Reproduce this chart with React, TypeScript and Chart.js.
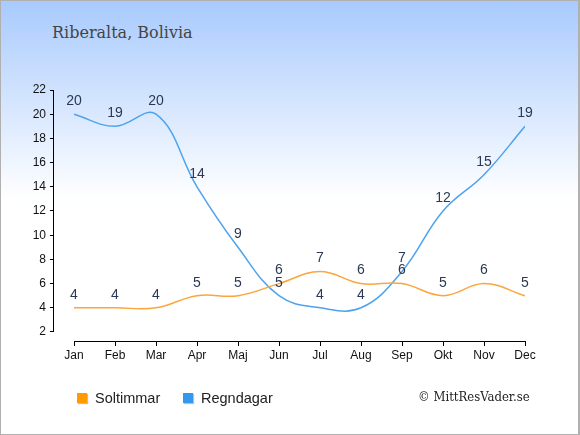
import { useEffect, useRef } from 'react'
import { Chart, registerables } from 'chart.js'

Chart.register(...registerables)

const months = ['Jan', 'Feb', 'Mar', 'Apr', 'Maj', 'Jun', 'Jul', 'Aug', 'Sep', 'Okt', 'Nov', 'Dec']
const soltimmar = [4, 4, 4, 5, 5, 6, 7, 6, 6, 5, 6, 5]
const regndagar = [20, 19, 20, 14, 9, 5, 4, 4, 7, 12, 15, 19]
const yTicks = [2, 4, 6, 8, 10, 12, 14, 16, 18, 20, 22]

const sunColor = '#fba63c'
const rainColor = '#4da3ee'

// numbers above every point
const valueLabels = {
  id: 'valueLabels',
  afterDatasetsDraw(chart: any) {
    const ctx = chart.ctx
    ctx.save()
    ctx.font = '14px "Liberation Sans", Arial, sans-serif'
    ctx.fillStyle = '#2b3954'
    ctx.textAlign = 'center'
    ctx.textBaseline = 'middle'
    chart.data.datasets.forEach((ds: any, i: number) => {
      const meta = chart.getDatasetMeta(i)
      meta.data.forEach((pt: any, j: number) => {
        ctx.fillText(String(ds.data[j].y), pt.x, pt.y - 13)
      })
    })
    ctx.restore()
  }
}

// axis lines only over the tick range, leaving a gap in the corner
const axisLines = {
  id: 'axisLines',
  beforeDatasetsDraw(chart: any) {
    const { ctx, chartArea } = chart
    const x = chart.scales.x
    const y = chart.scales.y
    ctx.save()
    ctx.strokeStyle = '#000'
    ctx.lineWidth = 1
    ctx.beginPath()
    const ax = Math.round(chartArea.left) - 0.5
    ctx.moveTo(ax, y.getPixelForValue(yTicks[yTicks.length - 1]))
    ctx.lineTo(ax, y.getPixelForValue(yTicks[0]))
    const ay = Math.round(chartArea.bottom) + 0.5
    ctx.moveTo(x.getPixelForValue(0), ay)
    ctx.lineTo(x.getPixelForValue(months.length - 1), ay)
    ctx.stroke()
    ctx.restore()
  }
}

function WeatherChart() {
  const canvasRef = useRef<HTMLCanvasElement>(null)

  useEffect(() => {
    if (!canvasRef.current) return
    const ctx = canvasRef.current.getContext('2d')
    if (!ctx) return

    const tickFont = { family: '"Liberation Sans", Arial, sans-serif', size: 12 }

    const chart = new Chart(ctx, {
      type: 'line',
      data: {
        datasets: [
          {
            label: 'Soltimmar',
            data: soltimmar.map((v, i) => ({ x: i, y: v })),
            borderColor: sunColor,
            borderWidth: 1.5,
            pointRadius: 0,
            tension: 0.4,
            fill: false
          },
          {
            label: 'Regndagar',
            data: regndagar.map((v, i) => ({ x: i, y: v })),
            borderColor: rainColor,
            borderWidth: 1.5,
            pointRadius: 0,
            tension: 0.4,
            fill: false
          }
        ]
      },
      options: {
        responsive: false,
        animation: false,
        layout: { padding: { top: 90, left: 0, right: 55, bottom: 64 } },
        scales: {
          x: {
            type: 'linear',
            min: -0.488,
            max: months.length - 1,
            afterBuildTicks: (scale: any) => {
              scale.ticks = months.map((_, i) => ({ value: i }))
            },
            afterFit: (scale: any) => {
              scale.height = 30
            },
            border: { display: false },
            grid: { drawOnChartArea: false, drawTicks: true, tickLength: 5, color: '#000' },
            ticks: {
              autoSkip: false,
              maxRotation: 0,
              padding: 2,
              color: '#111',
              font: tickFont,
              callback: (v: any) => months[v]
            }
          },
          y: {
            min: 1.256,
            max: 22,
            afterBuildTicks: (scale: any) => {
              scale.ticks = yTicks.map(v => ({ value: v }))
            },
            afterFit: (scale: any) => {
              scale.width = 54
            },
            border: { display: false },
            grid: { drawOnChartArea: false, drawTicks: true, tickLength: 4, color: '#000' },
            ticks: { padding: 4, color: '#111', font: tickFont }
          }
        },
        plugins: {
          legend: { display: false },
          tooltip: { enabled: false }
        }
      },
      plugins: [axisLines, valueLabels]
    })

    return () => chart.destroy()
  }, [])

  return <canvas ref={canvasRef} width={580} height={435} style={{ position: 'absolute', left: 0, top: 0 }} />
}

const legendItem = (color: string, text: string, left: number) => (
  <div style={{ position: 'absolute', left, top: 390, height: 16, display: 'flex', alignItems: 'center' }}>
    <span
      style={{
        display: 'inline-block',
        width: 10,
        height: 10,
        background: color,
        boxShadow: '1px 1px 1px rgba(0,0,0,0.25)',
        marginRight: 8
      }}
    />
    <span style={{ fontFamily: '"Liberation Sans", Arial, sans-serif', fontSize: 14.5, color: '#222' }}>{text}</span>
  </div>
)

export default function App() {
  return (
    <div
      style={{
        position: 'fixed',
        left: 0,
        top: 0,
        width: 580,
        height: 435,
        overflow: 'hidden',
        background: 'linear-gradient(to bottom, #a8cafd 0px, #ffffff 200px, #ffffff 435px)'
      }}
    >
      <div
        style={{
          position: 'absolute',
          left: 52,
          top: 23,
          fontFamily: '"DejaVu Serif", serif',
          fontSize: 16,
          color: '#444',
          whiteSpace: 'nowrap'
        }}
      >
        Riberalta, Bolivia
      </div>
      <WeatherChart />
      {legendItem('#ff9a00', 'Soltimmar', 77)}
      {legendItem('#3399ee', 'Regndagar', 183)}
      <div
        style={{
          position: 'absolute',
          left: 418,
          top: 389,
          fontFamily: '"DejaVu Serif Condensed", "DejaVu Serif", serif',
          fontStretch: 'condensed',
          fontSize: 13,
          color: '#222',
          whiteSpace: 'nowrap'
        }}
      >
        © MittResVader.se
      </div>
      <div
        style={{
          position: 'absolute',
          inset: 0,
          boxSizing: 'border-box',
          border: '1px solid #b0b0b0',
          borderRightWidth: 2,
          pointerEvents: 'none'
        }}
      />
    </div>
  )
}
